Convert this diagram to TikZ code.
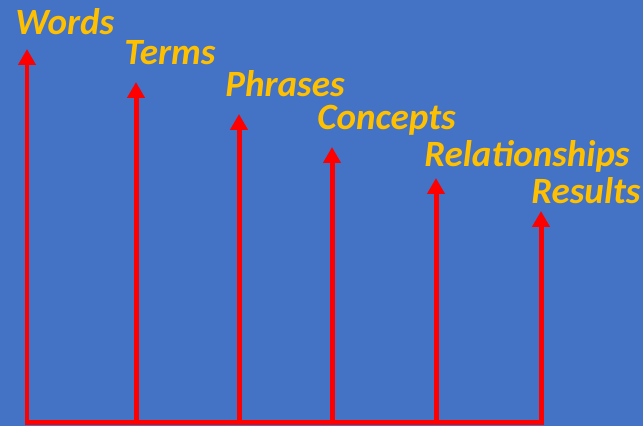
\documentclass[tikz,border=0pt]{standalone}
\usepackage{fontspec}
\usepackage{tikz}
\usetikzlibrary{arrows.meta}
\newfontfamily\stagefont{Carlito}
\definecolor{slideblue}{HTML}{4472C4}
\definecolor{stagegold}{HTML}{FFC000}
\definecolor{stagered}{HTML}{FF0000}
\tikzset{
  stage/.style={
    anchor=base west,
    inner sep=0pt,
    text=stagegold,
    font=\stagefont\bfseries\itshape\fontsize{21.1}{25}\selectfont
  },
  rise/.style={
    draw=stagered, line width=0.1cm,
    -{Triangle[length=0.32cm,width=0.34cm]}
  },
}

\begin{document}
\begin{tikzpicture}[x=0.02cm,y=-0.02cm]
      \fill[slideblue] (0,0) rectangle (643,426);
      \useasboundingbox (0,0) rectangle (643,426);

      % labels
      \node[stage] (words) at (15,34) {Words};
      \node[stage] (terms) at (124,64) {Terms};
      \node[stage] (phrases) at (225,96) {Phrases};
      \node[stage] (concepts) at (317,129) {Concepts};
      \node[stage] (relations) at (424,166) {Relationships};
      \node[stage] (results) at (531,203) {Results};

      % arrow feet and tips
      \coordinate (b1) at (27,422);
      \coordinate (b2) at (136,422);
      \coordinate (b3) at (239,422);
      \coordinate (b4) at (332,422);
      \coordinate (b5) at (436,422);
      \coordinate (b6) at (541,422);
      \coordinate (t1) at (27,49);
      \coordinate (t2) at (136,82);
      \coordinate (t3) at (239,114);
      \coordinate (t4) at (332,147);
      \coordinate (t5) at (436,178);
      \coordinate (t6) at (541,211);

      \draw[stagered,line width=0.1cm,line cap=rect] (b1) -- (b6);
      \draw[rise] (b1) -- (t1);
      \draw[rise] (b2) -- (t2);
      \draw[rise] (b3) -- (t3);
      \draw[rise] (b4) -- (t4);
      \draw[rise] (b5) -- (t5);
      \draw[rise] (b6) -- (t6);
    \end{tikzpicture}
\end{document}
